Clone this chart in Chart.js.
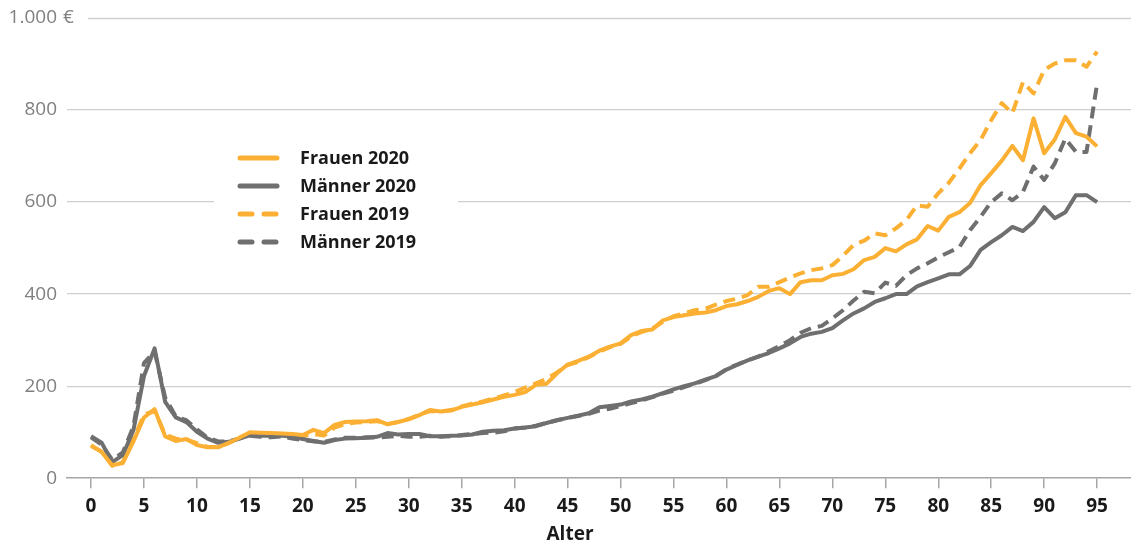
<!DOCTYPE html>
<html><head><meta charset="utf-8">
<script src="https://cdn.jsdelivr.net/npm/chart.js@4.4.1/dist/chart.umd.min.js"></script>
<style>html,body{margin:0;padding:0;background:#fff}#wrap{width:1131px;height:548px;position:relative}</style>
</head><body><div id="wrap"><canvas id="c" width="1131" height="548"></canvas></div>
<script>
const ages = [0,1,2,3,4,5,6,7,8,9,10,11,12,13,14,15,16,17,18,19,20,21,22,23,24,25,26,27,28,29,30,31,32,33,34,35,36,37,38,39,40,41,42,43,44,45,46,47,48,49,50,51,52,53,54,55,56,57,58,59,60,61,62,63,64,65,66,67,68,69,70,71,72,73,74,75,76,77,78,79,80,81,82,83,84,85,86,87,88,89,90,91,92,93,94,95];
const frauen2020 = [72,57,28,33,80,132,150,91,81,85,72,67,67,77,88,100,99,98,97,96,94,105,98,116,122,123,124,126,117,122,128,137,148,145,147,155,160,165,171,177,181,187,203,205,228,247,255,264,277,286,293,311,320,323,343,350,354,358,360,365,374,378,385,394,407,413,400,426,430,430,441,444,454,474,481,500,493,508,519,548,538,568,578,598,637,663,690,722,691,782,706,736,785,750,742,721];
const maenner2020 = [91,77,35,50,104,222,282,166,132,122,101,86,77,79,86,93,92,92,93,90,85,81,77,83,86,87,88,90,98,95,96,96,91,91,92,93,95,101,103,104,108,110,113,120,126,131,136,141,154,157,160,167,171,177,185,193,200,206,214,222,236,246,256,264,272,282,293,307,314,318,326,343,358,369,383,391,400,400,417,426,434,443,443,461,496,513,528,546,537,557,589,565,578,615,615,600];
const frauen2019 = [70,58,27,35,84,138,146,95,86,84,76,68,68,76,88,97,98,97,96,95,92,96,93,110,118,121,122,124,118,122,129,138,146,145,148,156,162,167,173,180,187,197,206,216,230,246,253,263,275,285,292,308,318,325,340,352,358,365,368,377,385,390,398,416,416,426,436,445,452,456,463,483,507,516,532,528,543,561,593,590,619,642,673,706,735,778,815,793,861,836,887,901,908,908,894,927];
const maenner2019 = [89,73,40,56,112,250,276,175,134,126,106,88,80,80,86,92,90,89,91,86,83,80,79,84,88,88,89,88,90,92,90,90,92,90,91,94,96,98,99,102,108,110,114,120,126,131,135,140,147,151,157,163,169,176,184,190,198,205,213,222,237,247,256,264,276,287,300,316,326,331,347,365,386,405,402,425,418,441,456,467,480,491,502,539,568,600,619,604,622,677,648,684,738,709,709,858];
const xTicks = [0,5,10,15,20,25,30,35,40,45,50,55,60,65,70,75,80,85,90,95];
const yTicks = [0,200,400,600,800,1000];
const yLabels = ['0','200','400','600','800','1.000'];
const seriesNames = ['Frauen 2020','Männer 2020','Frauen 2019','Männer 2019'];
const xTitle = 'Alter';
const currency = '€';

const ORANGE = '#FBB034';
const GRAY = '#6F6F6F';
const FONT = "'Open Sans', 'Noto Sans', sans-serif";

function pts(vals){ return ages.map((a,i)=>({x:a,y:vals[i]})); }

const colors = [ORANGE, GRAY, ORANGE, GRAY];
const dashes = [[],[],[12,7],[12,7]];
const series = [frauen2020, maenner2020, frauen2019, maenner2019];

const overlay = {
  id:'overlay',
  beforeDatasetsDraw(chart){
    const ctx = chart.ctx, y = chart.scales.y;
    ctx.save();
    ctx.strokeStyle = '#cfcfcf'; ctx.lineWidth = 1.3;
    const py = Math.round(y.getPixelForValue(1000)) + 0.5;
    ctx.beginPath(); ctx.moveTo(88, py); ctx.lineTo(chart.chartArea.right, py); ctx.stroke();
    ctx.restore();
  },
  afterDraw(chart){
    const ctx = chart.ctx, y = chart.scales.y;
    ctx.save();
    ctx.fillStyle = '#808080';
    ctx.font = '19px ' + FONT;
    ctx.textBaseline = 'middle';
    yTicks.forEach((v,i)=>{
      const py = y.getPixelForValue(v);
      ctx.textAlign = 'right';
      ctx.fillText(yLabels[i], 57, py);
      if (v === 1000){ ctx.textAlign='left'; ctx.fillText(currency, 63, py); }
    });
    ctx.fillStyle = '#ffffff';
    ctx.fillRect(214, 140, 244, 118);
    const rows = [158,186,214,242];
    seriesNames.forEach((n,i)=>{
      ctx.strokeStyle = colors[i];
      ctx.lineWidth = 5;
      ctx.lineCap = 'round';
      ctx.setLineDash(i>=2 ? [12,12] : []);
      ctx.beginPath(); ctx.moveTo(240, rows[i]); ctx.lineTo(277, rows[i]); ctx.stroke();
      ctx.setLineDash([]);
      ctx.fillStyle = '#1a1a1a';
      ctx.font = 'bold 18px ' + FONT;
      ctx.textAlign = 'left';
      ctx.textBaseline = 'middle';
      ctx.fillText(n, 300, rows[i] + 1);
    });
    ctx.fillStyle = '#1a1a1a';
    ctx.font = 'bold 19px ' + FONT;
    ctx.textAlign = 'center';
    ctx.textBaseline = 'middle';
    ctx.fillText(xTitle, 570, 535);
    ctx.restore();
  }
};

new Chart(document.getElementById('c'), {
  type:'line',
  data:{
    datasets: series.map((s,i)=>({
      label: seriesNames[i],
      data: pts(s),
      borderColor: colors[i],
      backgroundColor: colors[i],
      borderWidth: 4,
      borderDash: dashes[i],
      borderJoinStyle: 'round',
      borderCapStyle: 'butt',
      pointRadius: 0,
      tension: 0,
      fill: false
    }))
  },
  options:{
    responsive:false,
    animation:false,
    devicePixelRatio:1,
    layout:{padding:{left:67,right:0,top:18,bottom:23}},
    plugins:{legend:{display:false},tooltip:{enabled:false}},
    scales:{
      x:{
        type:'linear', min:-2.27, max:98.2,
        afterBuildTicks(scale){ scale.ticks = xTicks.map(v=>({value:v})); },
        ticks:{font:{family:FONT,size:19,weight:'bold'},color:'#1a1a1a',padding:7,maxRotation:0,autoSkip:false,callback:v=>String(v)},
        grid:{display:true,drawOnChartArea:false,drawTicks:true,tickLength:10,color:'#a6a6a6',lineWidth:1.5},
        border:{display:true,color:'#a6a6a6',width:1.5}
      },
      y:{
        min:0,max:1000,
        afterBuildTicks(scale){ scale.ticks = yTicks.map(v=>({value:v})); },
        ticks:{display:false},
        grid:{drawTicks:false,lineWidth:1.3,color:ctx=> (ctx.tick && (ctx.tick.value===0 || ctx.tick.value===1000)) ? 'rgba(0,0,0,0)' : '#cfcfcf'},
        border:{display:false}
      }
    }
  },
  plugins:[overlay]
});
</script></body></html>
